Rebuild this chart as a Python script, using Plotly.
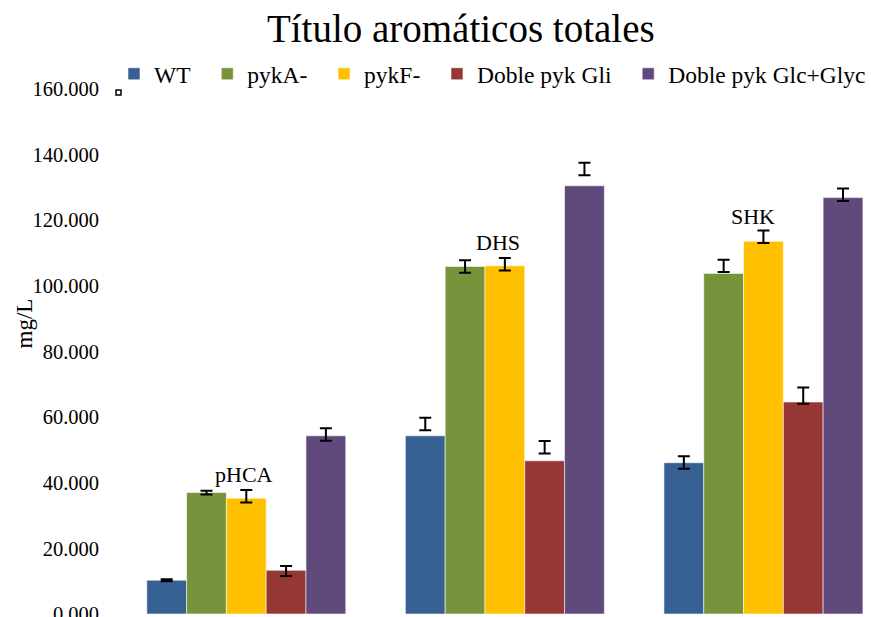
import plotly.graph_objects as go

categories = ["pHCA", "DHS", "SHK"]
series_names = ["WT", "pykA-", "pykF-", "Doble pyk Gli", "Doble pyk Glc+Glyc"]
colors = ["#376092", "#77933C", "#FFC000", "#953735", "#604A7B"]

values = {
    "WT": [10.3, 54.3, 46.1],
    "pykA-": [37.0, 105.9, 103.8],
    "pykF-": [35.3, 106.1, 113.6],
    "Doble pyk Gli": [13.3, 46.7, 64.6],
    "Doble pyk Glc+Glyc": [54.3, 130.5, 126.9],
}
err_plus = {
    "WT": [0.3, 5.5, 2.0],
    "pykA-": [0.6, 1.9, 4.2],
    "pykF-": [2.5, 2.4, 3.3],
    "Doble pyk Gli": [1.3, 6.0, 4.4],
    "Doble pyk Glc+Glyc": [2.3, 7.0, 2.8],
}
err_minus = {
    "WT": [0.3, -1.7, 1.8],
    "pykA-": [0.6, 1.9, -0.4],
    "pykF-": [1.3, 1.4, 0.5],
    "Doble pyk Gli": [1.7, -2.2, 0.5],
    "Doble pyk Glc+Glyc": [1.5, -3.2, 1.0],
}
label_values = [42.4, 113.2, 121.0]
y_ticks = [0, 20, 40, 60, 80, 100, 120, 140, 160]

SERIF = "Liberation Serif, Times New Roman, serif"
PAD = "\u00a0\u00a0"

fig = go.Figure()
for k, (name, col) in enumerate(zip(series_names, colors)):
    fig.add_trace(go.Bar(
        name=name + (PAD if k < len(series_names) - 1 else ""),
        x=categories,
        y=values[name],
        marker=dict(color=col, line=dict(color="rgba(255,255,255,0.55)", width=1)),
        error_y=dict(type="data", symmetric=False, array=err_plus[name],
                     arrayminus=err_minus[name], color="black", thickness=2, width=6),
    ))

offsets = [-0.01, -0.025, -0.04]
for i, (cat, v) in enumerate(zip(categories, label_values)):
    fig.add_annotation(x=i + offsets[i], y=v, text=cat, showarrow=False,
                       xanchor="center", yanchor="middle",
                       font=dict(family=SERIF, size=22, color="black"))

fig.add_annotation(text="mg/L", textangle=-90, xref="paper", yref="paper",
                   x=-0.123, y=0.554, showarrow=False, xanchor="center", yanchor="middle",
                   font=dict(family=SERIF, size=23, color="black"))

fig.add_shape(type="rect", xref="paper", yref="paper", xsizemode="pixel", ysizemode="pixel",
              xanchor=0, yanchor=1, x0=-1, x1=4, y0=-6, y1=-1,
              line=dict(color="black", width=1.5), fillcolor="white")

fig.update_layout(
    width=871, height=617,
    margin=dict(l=117, r=0, t=89, b=3, autoexpand=False),
    paper_bgcolor="white", plot_bgcolor="white",
    barmode="group", bargap=0.2305, bargroupgap=0,
    title=dict(text="Título aromáticos totales", x=0.529, xref="container", xanchor="center",
               y=1 - 28 / 617, yref="container", yanchor="middle",
               font=dict(family=SERIF, size=39, color="black")),
    legend=dict(orientation="h", x=-0.004, xanchor="left", y=1.0286, yanchor="middle",
                font=dict(family=SERIF, size=23.5, color="black"), bgcolor="rgba(0,0,0,0)",
                itemwidth=30, traceorder="normal"),
    xaxis=dict(type="category", range=[-0.5, 2.416], showticklabels=False, showgrid=False,
               zeroline=False, showline=False, ticks=""),
    yaxis=dict(range=[0, 160], tickvals=y_ticks, tickformat=".3f", showgrid=False,
               zeroline=False, showline=False, ticks="", ticklabelstandoff=17,
               ticklabeloverflow="allow",
               tickfont=dict(family=SERIF, size=20.5, color="black")),
    showlegend=True,
)

fig.write_html("out.html", config={"displayModeBar": False},
               post_script="document.body.style.margin='0px';")
